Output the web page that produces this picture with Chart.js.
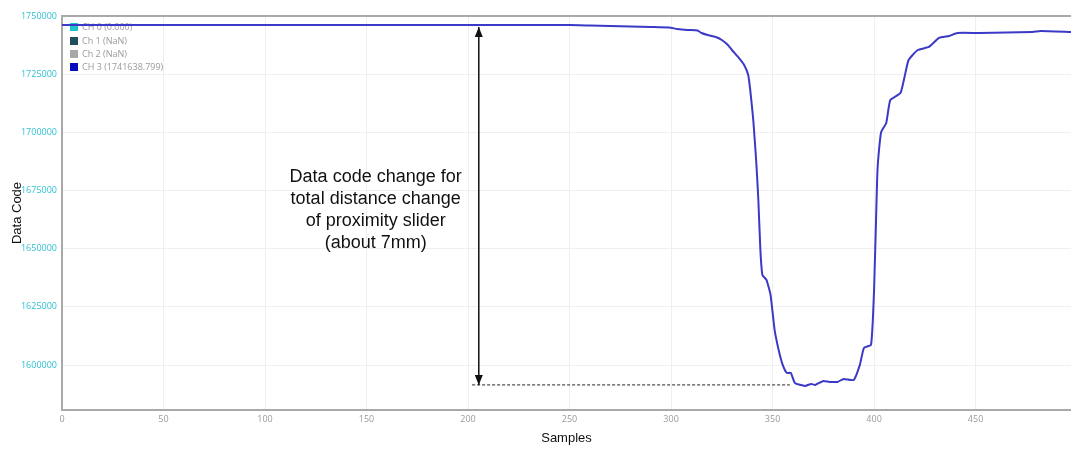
<!DOCTYPE html>
<html>
<head>
<meta charset="utf-8">
<script src="https://cdn.jsdelivr.net/npm/chart.js@4.4.1/dist/chart.umd.min.js"></script>
<style>
  html, body { margin: 0; padding: 0; background: #fff; }
  #wrap { width: 1071px; height: 450px; position: relative; }
</style>
</head>
<body>
<div id="wrap"><canvas id="c" width="1071" height="450"></canvas></div>
<script>
// ---- data ----
const samples = [0, 250, 260, 270, 290, 299, 303, 308, 313, 315, 318, 322, 325, 328, 330, 333, 336, 338, 339, 340.5, 342, 343, 344, 345, 347, 349, 351, 353, 355, 357, 359, 361, 366, 369, 371, 375, 378, 382, 385, 390, 393, 395, 398.5, 400, 401.5, 402, 403.5, 406, 408, 413, 415, 417, 421.5, 427, 432, 437, 441, 452, 478, 482, 497];
const ch3 = [1746134, 1746134, 1745919, 1745704, 1745274, 1745060, 1744415, 1743986, 1743771, 1742697, 1741838, 1740978, 1739690, 1737542, 1735394, 1732386, 1728950, 1724654, 1718210, 1705322, 1686849, 1670954, 1649474, 1638736, 1636590, 1630146, 1615110, 1606518, 1600074, 1596637, 1596637, 1592341, 1591052, 1591911, 1591482, 1593200, 1592771, 1592771, 1594059, 1593630, 1600074, 1607378, 1608666, 1632290, 1679546, 1688138, 1700164, 1704030, 1713910, 1716918, 1723794, 1731096, 1735394, 1736683, 1740549, 1741408, 1742697, 1742697, 1743126, 1743556, 1743126];
const xTicks = [0, 50, 100, 150, 200, 250, 300, 350, 400, 450];
const yTicks = [1600000, 1625000, 1650000, 1675000, 1700000, 1725000, 1750000];
const legendLabels = ['CH 0 (0.000)', 'Ch 1 (NaN)', 'Ch 2 (NaN)', 'CH 3 (1741638.799)'];
const legendColors = ['#1fc3d2', '#1d4f5c', '#a8a8a8', '#0a0ac0'];
// annotation: arrow and dashed baseline
const arrowX = [205.3, 205.3];
const arrowY = [1745274, 1591482];
const dashX = [202, 358.5];
const dashY = [1591482, 1591482];
const noteLines = ['Data code change for', 'total distance change', 'of proximity slider', '(about 7mm)'];
const noteX = 154.5;

const toPts = (xs, ys) => xs.map((x, i) => ({x: x, y: ys[i]}));

const legendPlugin = {
  id: 'insideLegend',
  beforeDatasetsDraw(chart) {
    const ctx = chart.ctx;
    const a = chart.chartArea;
    ctx.save();
    ctx.font = '9px "Open Sans", sans-serif';
    ctx.textBaseline = 'middle';
    ctx.textAlign = 'left';
    const ys = [27, 41, 54, 67];
    legendLabels.forEach((t, i) => {
      const y = ys[i];
      ctx.fillStyle = legendColors[i];
      ctx.fillRect(a.left + 8, y - 4, 8, 8);
      ctx.fillStyle = '#9a9a9a';
      ctx.fillText(t, a.left + 20, y + 0.5);
    });
    ctx.restore();
  }
};

const notePlugin = {
  id: 'note',
  afterDatasetsDraw(chart) {
    const ctx = chart.ctx;
    const xs = chart.scales.x, ys = chart.scales.y;
    ctx.save();
    const ax = xs.getPixelForValue(arrowX[0]);
    const top = ys.getPixelForValue(arrowY[0]);
    const bot = ys.getPixelForValue(arrowY[1]);
    ctx.fillStyle = '#111';
    ctx.beginPath();
    ctx.moveTo(ax, top); ctx.lineTo(ax - 4, top + 10); ctx.lineTo(ax + 4, top + 10); ctx.closePath(); ctx.fill();
    ctx.beginPath();
    ctx.moveTo(ax, bot); ctx.lineTo(ax - 4, bot - 10); ctx.lineTo(ax + 4, bot - 10); ctx.closePath(); ctx.fill();
    ctx.font = '18px "Liberation Sans", Arial, sans-serif';
    ctx.fillStyle = '#111';
    ctx.textAlign = 'center';
    ctx.textBaseline = 'middle';
    const cx = xs.getPixelForValue(noteX);
    noteLines.forEach((t, i) => ctx.fillText(t, cx, 177 + i * 22));
    ctx.restore();
  }
};

new Chart(document.getElementById('c'), {
  type: 'line',
  data: {
    datasets: [
      {
        label: 'CH 3',
        data: toPts(samples, ch3),
        borderColor: '#3a3ac6',
        borderWidth: 2,
        pointRadius: 0,
        tension: 0.15,
        fill: false
      },
      {
        label: 'arrow',
        data: toPts(arrowX, arrowY),
        borderColor: '#111',
        borderWidth: 1.5,
        pointRadius: 0,
        fill: false
      },
      {
        label: 'dash',
        data: toPts(dashX, dashY),
        borderColor: '#222',
        borderWidth: 1,
        borderDash: [3, 2],
        pointRadius: 0,
        fill: false
      }
    ]
  },
  options: {
    responsive: false,
    animation: false,
    layout: { padding: { top: 16, right: 0, left: 0, bottom: 0 } },
    plugins: { legend: { display: false }, tooltip: { enabled: false } },
    scales: {
      x: {
        type: 'linear',
        min: 0,
        max: 497,
        afterBuildTicks: s => { s.ticks = xTicks.map(v => ({value: v})); },
        afterFit: s => { s.height = 40; },
        grid: { color: '#efefef', lineWidth: 1, drawTicks: false },
        border: { color: '#a9a9a9', width: 2 },
        ticks: { color: '#9a9a9a', font: { size: 9, family: '"Open Sans", sans-serif' }, padding: 4, maxRotation: 0, callback: v => String(v) },
        title: { display: true, text: 'Samples', color: '#111', font: { size: 13, family: '"Liberation Sans", Arial, sans-serif' }, padding: { top: 0, bottom: 4 } }
      },
      y: {
        type: 'linear',
        min: 1580700,
        max: 1750000,
        afterBuildTicks: s => { s.ticks = yTicks.map(v => ({value: v})); },
        afterFit: s => { s.width = 62; },
        grid: {
          color: c => (c.tick && c.tick.value === 1750000) ? '#a9a9a9' : '#efefef',
          lineWidth: c => (c.tick && c.tick.value === 1750000) ? 2 : 1,
          drawTicks: false
        },
        border: { color: '#a9a9a9', width: 2 },
        ticks: { color: '#2fc2d2', font: { size: 9, family: '"Open Sans", sans-serif' }, padding: 5, callback: v => String(v) },
        title: { display: true, text: 'Data Code', color: '#111', font: { size: 13, family: '"Liberation Sans", Arial, sans-serif' }, padding: { top: 10, bottom: 0 } }
      }
    }
  },
  plugins: [legendPlugin, notePlugin]
});
</script>
</body>
</html>
